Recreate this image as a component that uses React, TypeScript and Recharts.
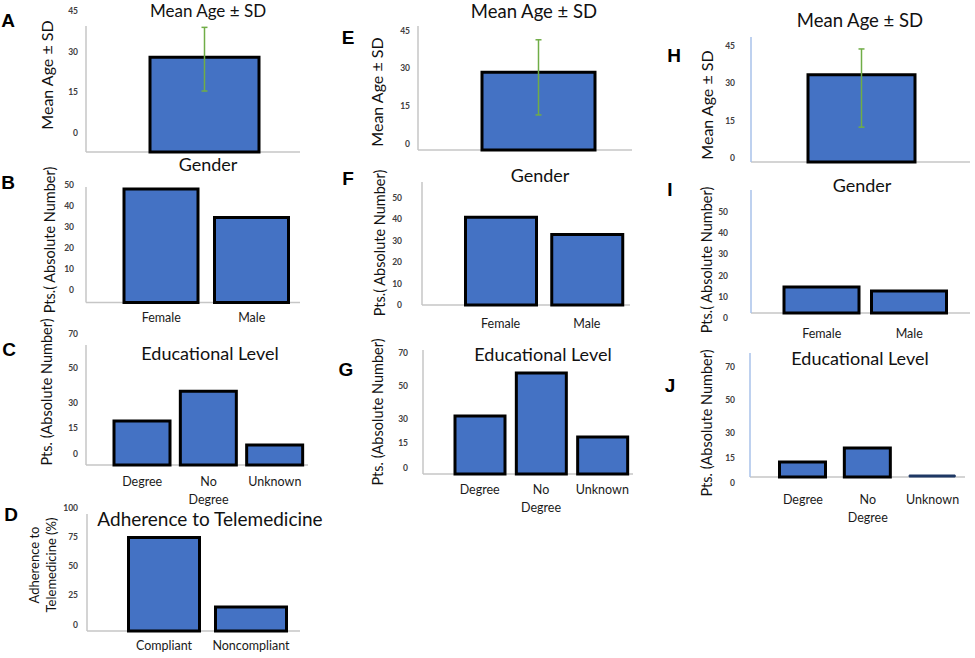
import React from "react";
import { BarChart, Bar, XAxis, YAxis, ErrorBar, Cell } from "recharts";

// ---------- data ----------
const ageCategory = ["Age"];
const meanAgeA = [35];
const sdA = [[12.5, 11]];
const meanAgeE = [31];
const sdE = [[17, 13]];
const meanAgeH = [35];
const sdH = [[21, 10.4]];

const genderCategories = ["Female", "Male"];
const genderB = [54, 40.5];
const genderF = [41, 33];
const genderI = [12.3, 10.4];

const educationCategories = ["Degree", "No Degree", "Unknown"];
const educationC = [25.7, 43, 11.7];
const educationG = [35.4, 61.6, 22.6];
const educationJ = [9, 17.5, 1.2];

const adherenceCategories = ["Compliant", "Noncompliant"];
const adherenceD = [80, 20.5];

const ageTicks = [0, 15, 30, 45];
const genderTicks = [0, 10, 20, 30, 40, 50];
const educationTicks = [0, 15, 30, 50, 70];
const adherenceTicks = [0, 25, 50, 75, 100];

const rowsOf = (cats: string[], vals: number[], sds?: number[][]) =>
  cats.map((name, i) => ({ name, value: vals[i], sd: sds ? sds[i] : undefined }));

const FONT = "Lato, 'Liberation Sans', sans-serif";
const BAR_FILL = "#4472C4";
const GRAY_AXIS = "#c6c6c6";
const BLUE_AXIS = "#a9c2ea";

function YTick(props: any) {
  const { x, y, payload, dyOff } = props;
  return (
    <text x={x} y={y + dyOff} textAnchor="end" dominantBaseline="central"
      fontSize={8.5} fontWeight={700} fill="#404040" fontFamily={FONT}>
      {payload.value}
    </text>
  );
}

function XTick(props: any) {
  const { x, y, payload } = props;
  const lines = String(payload.value).split(" ");
  return (
    <g>
      {lines.map((l: string, i: number) => (
        <text key={i} x={x} y={y + i * 18} textAnchor="middle" dominantBaseline="central"
          fontSize={12.5} fill="#1a1a1a" fontFamily={FONT}>
          {l}
        </text>
      ))}
    </g>
  );
}

type PanelCfg = {
  rows: any[];
  ticks: number[];
  domainMax: number;
  plotLeft: number;
  plotRight: number;
  plotTop: number;
  baseline: number;
  tickDy: number;
  tickGap: number;
  padL: number;
  padR: number;
  barSize: number;
  xTickMargin?: number;
  showX: boolean;
  yAxisColor: string;
  error?: boolean;
  fills?: string[];
  outline?: string[];
  outlineWidth?: number[];
};

function Panel({ cfg }: { cfg: PanelCfg }) {
  const YW = 45, MT = 25, MR = 4;
  const XH = cfg.showX ? 50 : 6;
  const plotW = cfg.plotRight - cfg.plotLeft;
  const plotH = cfg.baseline - cfg.plotTop;
  const width = YW + plotW + MR;
  const height = MT + plotH + XH;
  return (
    <div style={{ position: "absolute", left: cfg.plotLeft - YW, top: cfg.plotTop - MT }}>
      <BarChart width={width} height={height} data={cfg.rows}
        margin={{ top: MT, right: MR, left: 0, bottom: 0 }}>
        <XAxis dataKey="name" type="category" height={XH} interval={0}
          padding={{ left: cfg.padL, right: cfg.padR }}
          axisLine={{ stroke: GRAY_AXIS, strokeWidth: 1.5 }} tickLine={false}
          tickSize={0} tickMargin={cfg.xTickMargin ?? 0}
          tick={cfg.showX ? (p: any) => <XTick {...p} /> : false} />
        <YAxis type="number" width={YW} domain={[0, cfg.domainMax]} ticks={cfg.ticks} interval={0}
          axisLine={{ stroke: cfg.yAxisColor, strokeWidth: 1.5 }} tickLine={false}
          tickSize={0} tickMargin={cfg.tickGap}
          tick={(p: any) => <YTick {...p} dyOff={cfg.tickDy} />} />
        <Bar dataKey="value" fill={BAR_FILL} stroke="#000" strokeWidth={3}
          barSize={cfg.barSize} isAnimationActive={false} zIndex={800}>
          {cfg.rows.map((r, i) => (
            <Cell key={r.name} fill={cfg.fills ? cfg.fills[i] : BAR_FILL}
              stroke={cfg.outline ? cfg.outline[i] : "#000"}
              strokeWidth={cfg.outlineWidth ? cfg.outlineWidth[i] : 3} />
          ))}
          {cfg.error && (
            <ErrorBar dataKey="sd" width={3} stroke="#70AD47" strokeWidth={1.5} direction="y" zIndex={900} />
          )}
        </Bar>
      </BarChart>
    </div>
  );
}

const panels: PanelCfg[] = [
  { rows: rowsOf(ageCategory, meanAgeA, sdA), ticks: ageTicks, domainMax: 46.5, plotLeft: 86, plotRight: 300, plotTop: 26, baseline: 152, tickDy: -19, tickGap: 8, padL: 23, padR: 0, barSize: 109, showX: false, yAxisColor: GRAY_AXIS, error: true },
  { rows: rowsOf(genderCategories, genderB), ticks: genderTicks, domainMax: 55, plotLeft: 86, plotRight: 300, plotTop: 186.5, baseline: 302, tickDy: -13, tickGap: 12, padL: 30, padR: 3, barSize: 74, xTickMargin: 15, showX: true, yAxisColor: GRAY_AXIS },
  { rows: rowsOf(educationCategories, educationC), ticks: educationTicks, domainMax: 70, plotLeft: 86, plotRight: 308, plotTop: 345, baseline: 465, tickDy: -11, tickGap: 8, padL: 23, padR: 0, barSize: 56, xTickMargin: 16, showX: true, yAxisColor: GRAY_AXIS },
  { rows: rowsOf(adherenceCategories, adherenceD), ticks: adherenceTicks, domainMax: 100, plotLeft: 87, plotRight: 300, plotTop: 514, baseline: 631, tickDy: -6.5, tickGap: 9, padL: 33.5, padR: 5.5, barSize: 71, xTickMargin: 14, showX: true, yAxisColor: GRAY_AXIS },
  { rows: rowsOf(ageCategory, meanAgeE, sdE), ticks: ageTicks, domainMax: 49.5, plotLeft: 418, plotRight: 632, plotTop: 26, baseline: 150, tickDy: -6.5, tickGap: 8, padL: 27, padR: 0, barSize: 113, showX: false, yAxisColor: GRAY_AXIS, error: true },
  { rows: rowsOf(genderCategories, genderF), ticks: genderTicks, domainMax: 57.5, plotLeft: 422, plotRight: 630, plotTop: 182, baseline: 305, tickDy: 0, tickGap: 20, padL: 35.5, padR: 0, barSize: 71, xTickMargin: 18, showX: true, yAxisColor: GRAY_AXIS },
  { rows: rowsOf(educationCategories, educationG), ticks: educationTicks, domainMax: 75.6, plotLeft: 423, plotRight: 633, plotTop: 350, baseline: 474, tickDy: -6, tickGap: 15, padL: 26, padR: 0, barSize: 50, xTickMargin: 15, showX: true, yAxisColor: GRAY_AXIS },
  { rows: rowsOf(ageCategory, meanAgeH, sdH), ticks: ageTicks, domainMax: 50.2, plotLeft: 751, plotRight: 970, plotTop: 37, baseline: 162, tickDy: -4, tickGap: 16, padL: 2, padR: 0, barSize: 107, showX: false, yAxisColor: BLUE_AXIS, error: true },
  { rows: rowsOf(genderCategories, genderI), ticks: genderTicks, domainMax: 58, plotLeft: 751, plotRight: 970, plotTop: 190, baseline: 313, tickDy: 5, tickGap: 23, padL: 27, padR: 17, barSize: 75, xTickMargin: 20, showX: true, yAxisColor: BLUE_AXIS },
  { rows: rowsOf(educationCategories, educationJ), ticks: educationTicks, domainMax: 74.7, plotLeft: 750, plotRight: 965, plotTop: 353, baseline: 477, tickDy: 6, tickGap: 15, padL: 20.5, padR: 0, barSize: 46, xTickMargin: 22, showX: true, yAxisColor: BLUE_AXIS, fills: [BAR_FILL, BAR_FILL, "#1F3864"], outline: ["#000", "#000", "#1F3864"], outlineWidth: [3, 3, 1] },
];

const letters: [string, number, number][] = [
  ["A", 8, 20], ["B", 8, 182], ["C", 9, 349], ["D", 11, 514],
  ["E", 348, 37], ["F", 348, 178], ["G", 346, 369],
  ["H", 674, 55], ["I", 670, 189], ["J", 670, 385],
];

const titles: [string, number, number, number][] = [
  ["Mean Age ± SD", 208, 10, 17],
  ["Gender", 208, 164, 18],
  ["Educational Level", 210, 353, 18],
  ["Adherence to Telemedicine", 210, 518, 19],
  ["Mean Age ± SD", 534, 11, 18.5],
  ["Gender", 540, 175, 18],
  ["Educational Level", 543, 354, 18],
  ["Mean Age ± SD", 860, 20, 18.5],
  ["Gender", 862, 185, 18],
  ["Educational Level", 860, 358, 18],
];

const yLabels: [string, number, number, number][] = [
  ["Mean Age ± SD", 47, 75, 16],
  ["Pts.( Absolute Number)", 50, 240, 14.5],
  ["Pts. (Absolute Number)", 47, 392, 14.5],
  ["Adherence to\nTelemedicine (%)", 43, 565, 13],
  ["Mean Age ± SD", 377, 92, 16],
  ["Pts.( Absolute Number)", 380, 243, 14.5],
  ["Pts. (Absolute Number)", 378, 412, 14.5],
  ["Mean Age ± SD", 707, 105, 16],
  ["Pts.( Absolute Number)", 707, 260, 14.5],
  ["Pts. (Absolute Number)", 707, 423, 14.5],
];

export default function App() {
  return (
    <div style={{ position: "absolute", left: 0, top: 0, width: 975, height: 658, overflow: "hidden", background: "#fff", fontFamily: FONT }}>
      {panels.map((cfg, i) => <Panel key={i} cfg={cfg} />)}
      {letters.map(([t, x, y]) => (
        <div key={t} style={{ position: "absolute", left: x, top: y, transform: "translate(-50%,-50%)", fontFamily: "'Liberation Sans', Arial, sans-serif", fontWeight: 700, fontSize: 19, color: "#000", lineHeight: 1 }}>{t}</div>
      ))}
      {titles.map(([t, x, y, s], i) => (
        <div key={"t" + i} style={{ position: "absolute", left: x, top: y, transform: "translate(-50%,-50%)", fontSize: s, color: "#111", whiteSpace: "nowrap", lineHeight: 1 }}>{t}</div>
      ))}
      {yLabels.map(([t, x, y, s], i) => (
        <div key={"y" + i} style={{ position: "absolute", left: x, top: y, transform: "translate(-50%,-50%) rotate(-90deg)", fontSize: s, color: "#111", whiteSpace: "pre", textAlign: "center", lineHeight: 1.3 }}>{t}</div>
      ))}
    </div>
  );
}
